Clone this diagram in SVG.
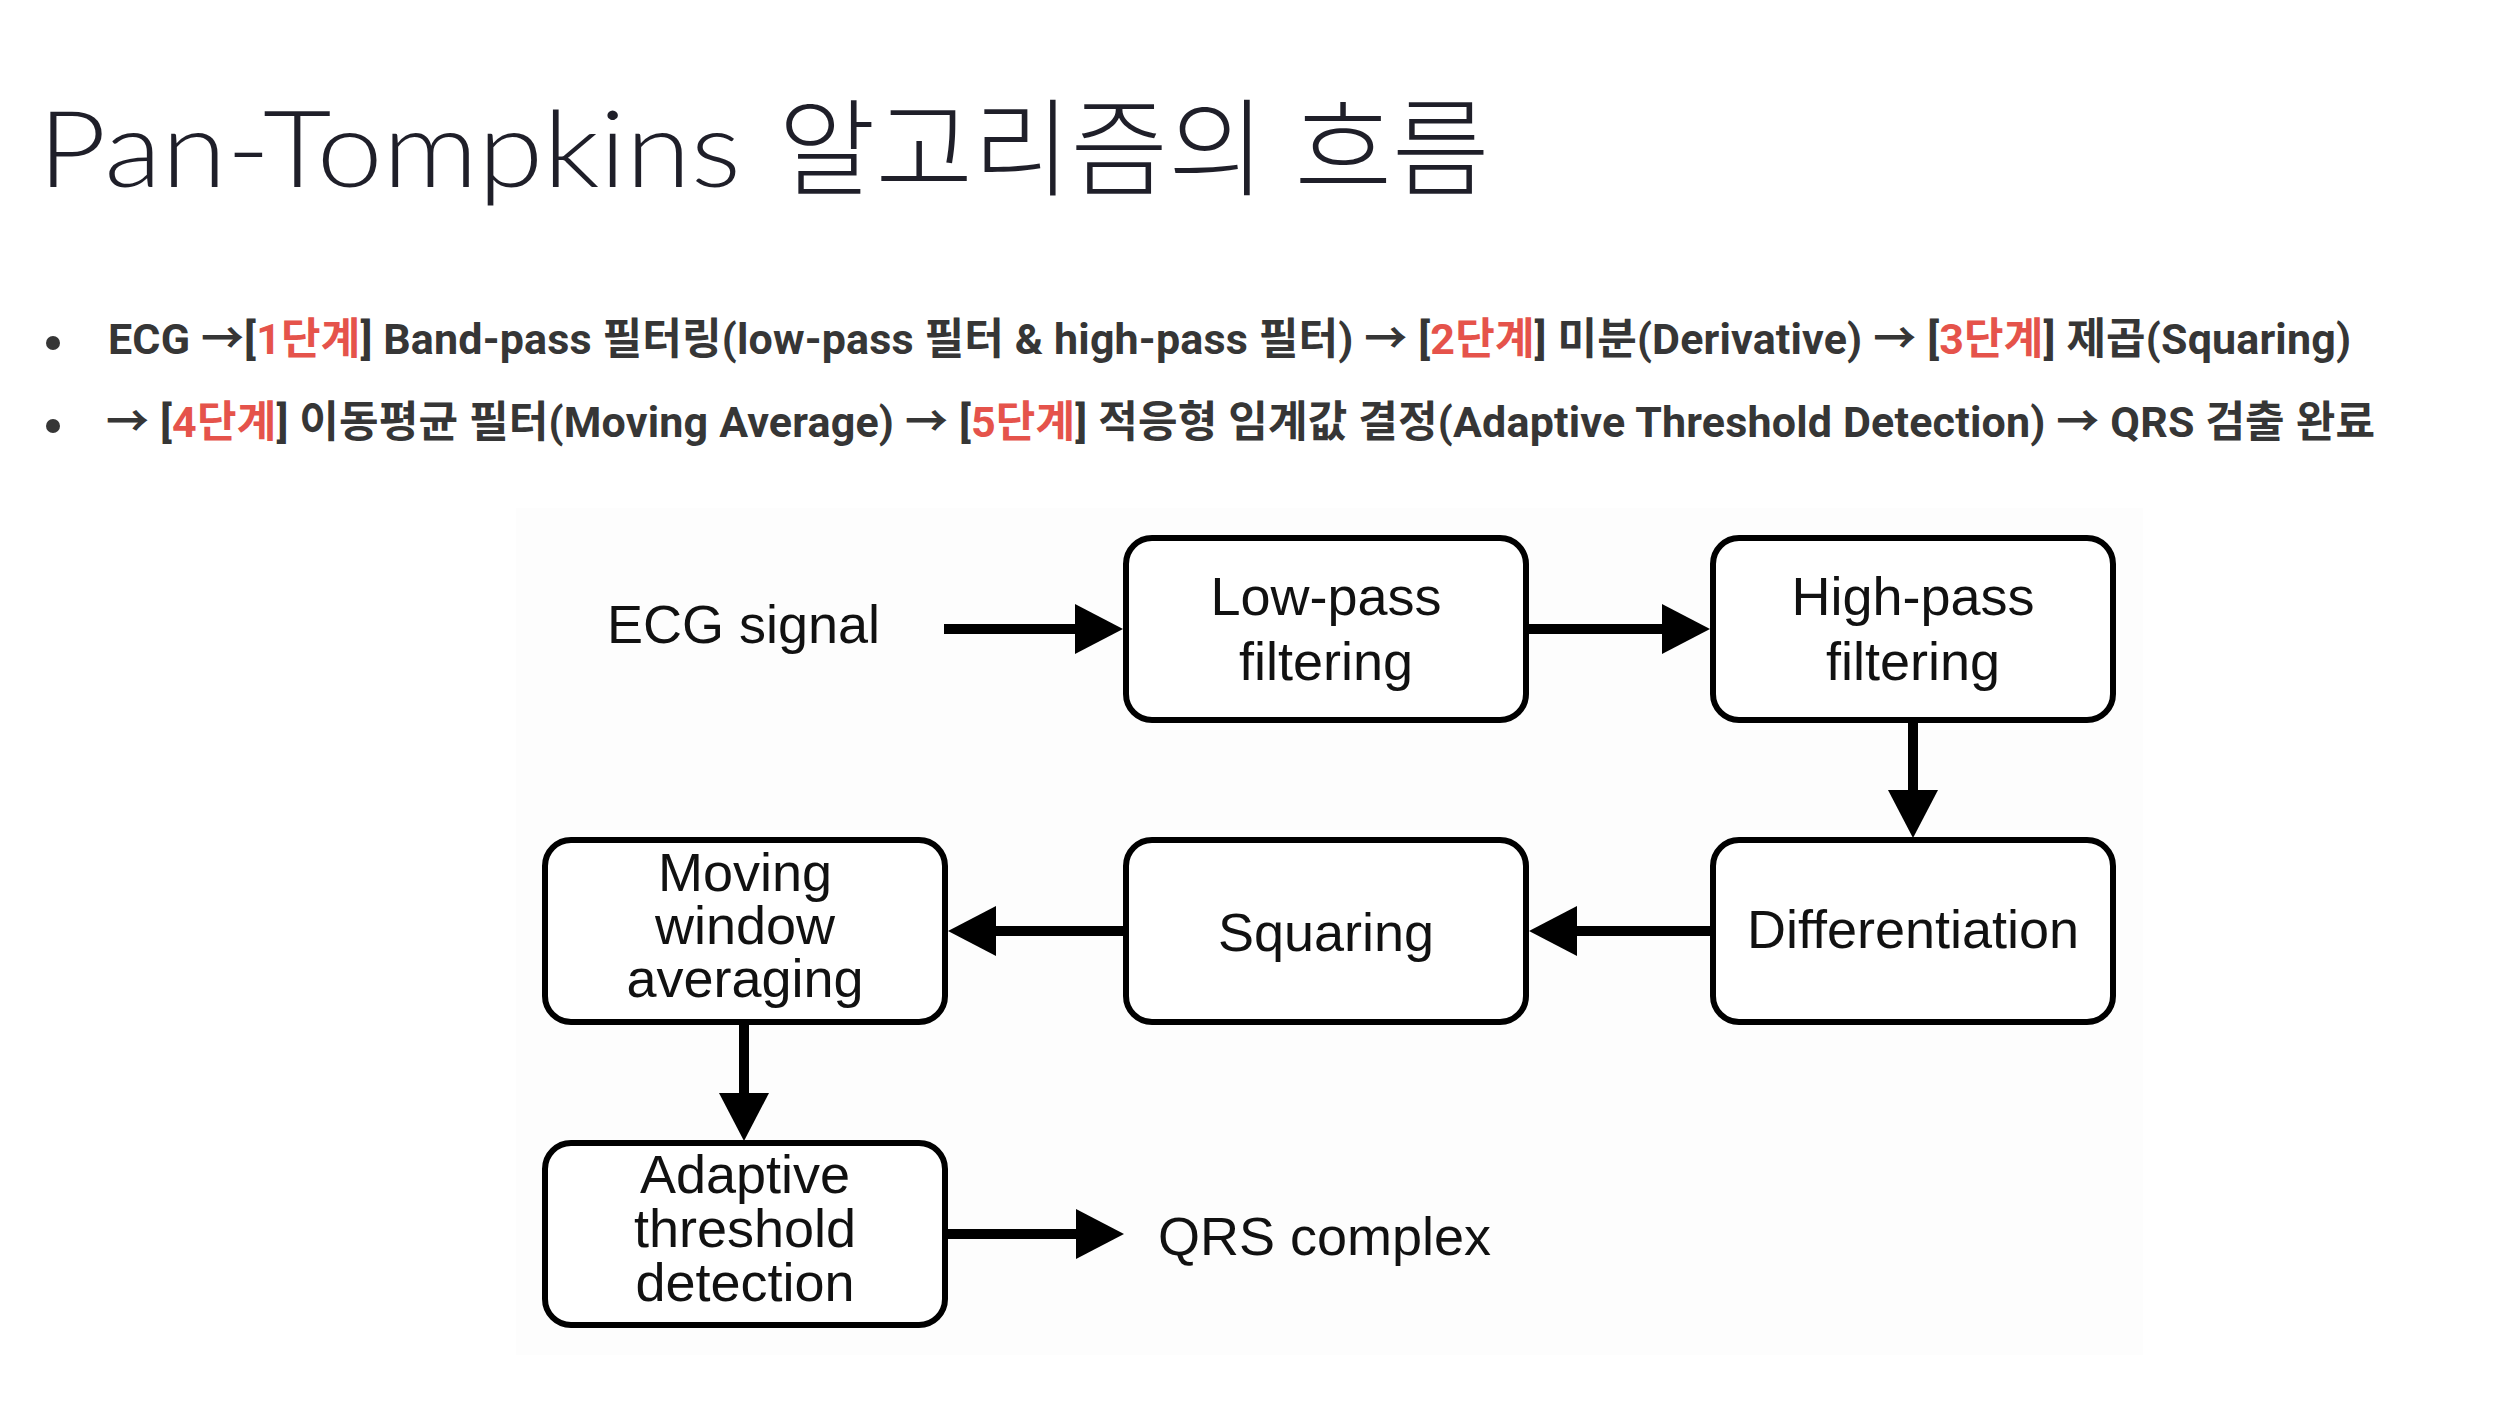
<svg xmlns="http://www.w3.org/2000/svg" width="2520" height="1412" viewBox="0 0 2520 1412">
  <style>
    .title { font-family: "Lato", "Noto Sans CJK KR", sans-serif; font-weight: 300; font-size: 106px; fill: #1f1f29; }
    .bullet { font-family: "Roboto", "Noto Sans CJK KR", sans-serif; font-weight: 700; font-size: 43px; fill: #363636; }
    .step { fill: #e5534b; }
    .dot { fill: #363636; }
    .box { fill: #ffffff; stroke: #000000; stroke-width: 6; }
    .label { font-family: "Liberation Sans", Arial, sans-serif; font-size: 54px; fill: #111111; text-anchor: middle; }
    .free { font-family: "Liberation Sans", Arial, sans-serif; font-size: 54px; fill: #111111; }
    .link { fill: none; stroke: #000000; stroke-width: 10; }
  </style>
  <defs>
    <marker id="head" markerUnits="userSpaceOnUse" markerWidth="50" markerHeight="52" refX="2" refY="25" orient="auto">
      <path d="M0,0 L48,25 L0,50 Z" fill="#000000"/>
    </marker>
  </defs>

  <rect width="2520" height="1412" fill="#ffffff"/>

  <!-- heading -->
  <text class="title" x="38" y="187"><tspan textLength="703" lengthAdjust="spacingAndGlyphs">Pan-Tompkins</tspan> <tspan x="778">알고리즘의 흐름</tspan></text>

  <!-- step summary -->
  <g id="summary">
    <circle class="dot" cx="53" cy="343" r="7"/>
    <text class="bullet" x="108" y="354" textLength="2243" lengthAdjust="spacing">ECG →[<tspan class="step">1단계</tspan>] Band-pass 필터링(low-pass 필터 &amp; high-pass 필터) → [<tspan class="step">2단계</tspan>] 미분(Derivative) → [<tspan class="step">3단계</tspan>] 제곱(Squaring)</text>
    <circle class="dot" cx="53" cy="426" r="7"/>
    <text class="bullet" x="106" y="437" textLength="2269" lengthAdjust="spacing">→ [<tspan class="step">4단계</tspan>] 이동평균 필터(Moving Average) → [<tspan class="step">5단계</tspan>] 적응형 임계값 결정(Adaptive Threshold Detection) → QRS 검출 완료</text>
  </g>

  <!-- flowchart backdrop -->
  <rect x="516" y="508" width="1627" height="847" fill="#fdfdfd"/>

  <!-- processing blocks -->
  <g id="node-ecg">
    <text class="free" x="607" y="643">ECG signal</text>
  </g>
  <g id="node-lowpass">
    <rect class="box" x="1126" y="538" width="400" height="182" rx="26"/>
    <text class="label" x="1326" y="615">Low-pass</text>
    <text class="label" x="1326" y="680">filtering</text>
  </g>
  <g id="node-highpass">
    <rect class="box" x="1713" y="538" width="400" height="182" rx="26"/>
    <text class="label" x="1913" y="615">High-pass</text>
    <text class="label" x="1913" y="680">filtering</text>
  </g>
  <g id="node-diff">
    <rect class="box" x="1713" y="840" width="400" height="182" rx="26"/>
    <text class="label" x="1913" y="948">Differentiation</text>
  </g>
  <g id="node-square">
    <rect class="box" x="1126" y="840" width="400" height="182" rx="26"/>
    <text class="label" x="1326" y="951">Squaring</text>
  </g>
  <g id="node-mwa">
    <rect class="box" x="545" y="840" width="400" height="182" rx="26"/>
    <text class="label" x="745" y="891">Moving</text>
    <text class="label" x="745" y="944">window</text>
    <text class="label" x="745" y="997">averaging</text>
  </g>
  <g id="node-threshold">
    <rect class="box" x="545" y="1143" width="400" height="182" rx="26"/>
    <text class="label" x="745" y="1193">Adaptive</text>
    <text class="label" x="745" y="1247">threshold</text>
    <text class="label" x="745" y="1301">detection</text>
  </g>
  <g id="node-qrs">
    <text class="free" x="1158" y="1255">QRS complex</text>
  </g>

  <!-- signal flow -->
  <g id="connectors">
    <path class="link" d="M944,629 H1077" marker-end="url(#head)"/>
    <path class="link" d="M1526,629 H1664" marker-end="url(#head)"/>
    <path class="link" d="M1913,720 V792" marker-end="url(#head)"/>
    <path class="link" d="M1713,931 H1575" marker-end="url(#head)"/>
    <path class="link" d="M1126,931 H994" marker-end="url(#head)"/>
    <path class="link" d="M744,1022 V1095" marker-end="url(#head)"/>
    <path class="link" d="M945,1234 H1078" marker-end="url(#head)"/>
  </g>
</svg>
